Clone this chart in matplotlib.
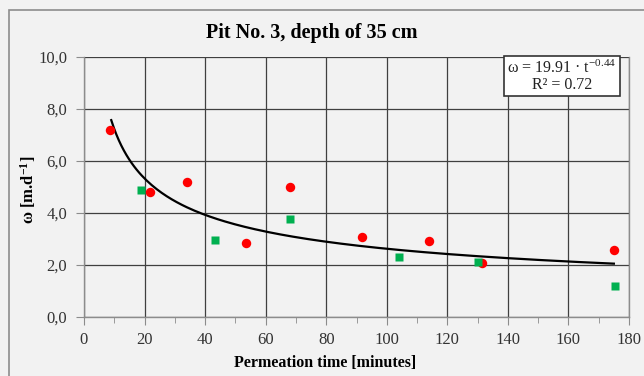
import numpy as np
import matplotlib.pyplot as plt
from matplotlib.patches import Rectangle

plt.rcParams['font.family'] = ['Liberation Serif', 'DejaVu Serif']
plt.rcParams['mathtext.fontset'] = 'custom'
plt.rcParams['mathtext.rm'] = 'Liberation Serif'
plt.rcParams['mathtext.it'] = 'Liberation Serif:italic'
plt.rcParams['mathtext.bf'] = 'Liberation Serif:bold'

# data
red_t = [8.7, 21.7, 34.0, 53.4, 68.1, 91.8, 113.8, 131.3, 175.0]
red_w = [7.19, 4.82, 5.20, 2.84, 5.00, 3.09, 2.94, 2.07, 2.56]
green_t = [18.9, 43.4, 68.0, 104.0, 130.1, 175.5]
green_w = [4.88, 2.97, 3.77, 2.29, 2.10, 1.20]

# power-law trend shown on the chart
coef_a = 19.91
coef_b = -0.44
trend_t = np.linspace(9, 175, 200)

bg = '#f2f2f2'
fig = plt.figure(figsize=(6.44, 3.76), dpi=100, facecolor=bg)
ax = fig.add_axes([84 / 644, 1 - 317 / 376, (629 - 84) / 644, (317 - 57) / 376])
ax.set_facecolor(bg)

# figure border
fig.patches.append(Rectangle((9 / 644, -0.1), 2, 1 - 10 / 376 + 0.1, transform=fig.transFigure,
                             fill=False, edgecolor='#8c8c8c', lw=1.2))

ax.plot(trend_t, coef_a * trend_t ** coef_b, color='black', lw=1.6, zorder=3)
ax.plot(red_t, red_w, 'o', color='#ff0000', ms=6.8, mec='none', zorder=4)
ax.plot(green_t, green_w, 's', color='#00b050', ms=6.2, mec='none', zorder=4)

ax.set_xlim(0, 180)
ax.set_ylim(0, 10)
ax.set_xticks(np.arange(0, 181, 20))
ax.set_xticks(np.arange(0, 181, 10), minor=True)
ax.set_yticks(np.arange(0, 10.1, 2))
ax.set_yticklabels([f'{v:.1f}'.replace('.', ',') for v in np.arange(0, 10.1, 2)])
ax.grid(True, which='major', color='#404040', lw=0.9)
ax.set_axisbelow(True)
ax.spines['top'].set_visible(False)
for s in ['left', 'bottom', 'right']:
    ax.spines[s].set_color('#8c8c8c')
    ax.spines[s].set_linewidth(1.0)
ax.tick_params(which='both', direction='out', color='#8c8c8c', labelcolor='#333333', labelsize=12)
ax.tick_params(which='major', length=6)
ax.tick_params(which='minor', length=4)
ax.tick_params(axis='x', pad=5)
ax.tick_params(axis='y', pad=6)

fig.text(325 / 644, 1 - 363 / 376, 'Permeation time [minutes]', ha='center', va='center',
         fontsize=11.5, fontweight='bold')
fig.text(28 / 644, 1 - 190 / 376, 'ω [m.d$^{\\mathbf{-1}}$]', ha='center', va='center',
         rotation=90, fontsize=12, fontweight='bold')
fig.text(312 / 644, 1 - 33 / 376, 'Pit No. 3, depth of 35 cm', ha='center', va='center',
         fontsize=14.5, fontweight='bold')

ax.text(0.877, 0.927, 'ω = 19.91 · t$^{-0.44}$\nR² = 0.72', transform=ax.transAxes,
        ha='center', va='center', fontsize=11.5, linespacing=1.0, color='#222222',
        bbox=dict(boxstyle='square,pad=0.2', facecolor='white', edgecolor='#333333', lw=1.2))

fig.savefig('out.png', dpi=100, facecolor=bg)
